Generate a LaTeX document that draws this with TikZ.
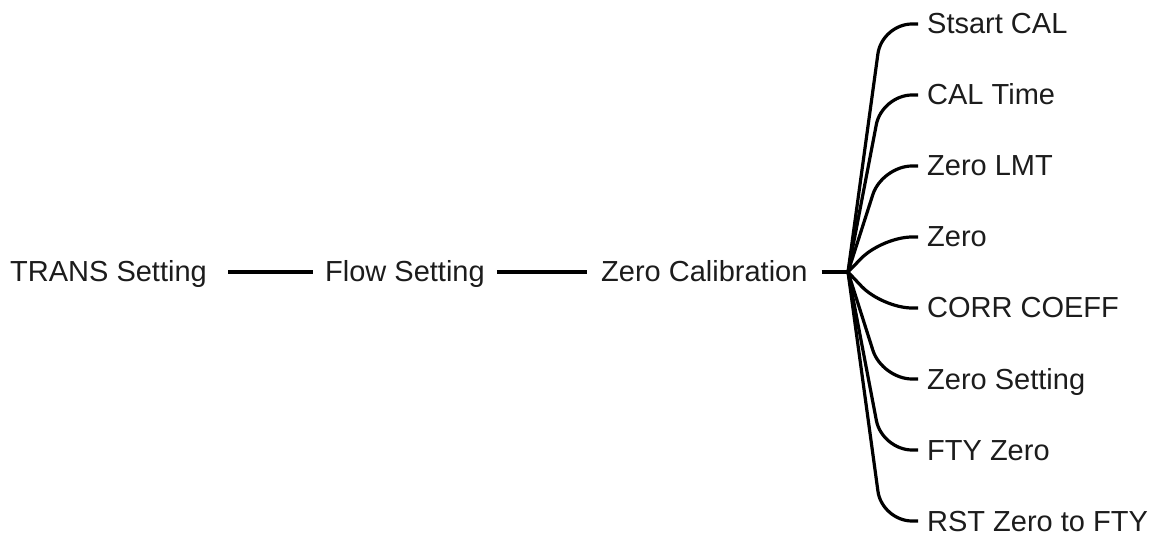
\documentclass[tikz,border=0pt]{standalone}
\usepackage{fontspec}
\setmainfont{Liberation Sans}
\begin{document}
\begin{tikzpicture}[x=1pt,y=-1pt,
  lbl/.style={anchor=west,inner sep=0pt,text height=20pt,text depth=0pt,
    font=\fontsize{29}{31}\selectfont,text=ink},
  conn/.style={draw=black,line width=3.2pt},
  branch/.style={conn,rounded corners=30pt}]
\definecolor{ink}{RGB}{28,28,28}
\useasboundingbox (0,0) rectangle (1154,537);
\node[lbl] (trans) at (10,272) {TRANS Setting};
\node[lbl] (flow) at (325,272) {Flow Setting};
\node[lbl] (zc) at (601,272) {Zero Calibration};
\coordinate (j) at (848,272);
\coordinate (k) at (882,0);
\node[lbl] (c1) at (927,24) {Stsart CAL};
\node[lbl] (c2) at (927,95) {CAL Time};
\node[lbl] (c3) at (927,166) {Zero LMT};
\node[lbl] (c4) at (927,237) {Zero};
\node[lbl] (c5) at (927,308) {CORR COEFF};
\node[lbl] (c6) at (927,379) {Zero Setting};
\node[lbl] (c7) at (927,450) {FTY Zero};
\node[lbl] (c8) at (927,521) {RST Zero to FTY};
\draw[conn] (228,272) -- ([xshift=-12pt]flow.west);
\draw[conn] ([xshift=12pt]flow.east) -- ([xshift=-14pt]zc.west);
\draw[conn] ([xshift=14pt]zc.east) -- (j);
\foreach \c in {c1,c2,c3,c4,c5,c6,c7,c8}
  \draw[branch] (j) -- (k |- \c.west) -- ([xshift=-9pt]\c.west);
\end{tikzpicture}
\end{document}
